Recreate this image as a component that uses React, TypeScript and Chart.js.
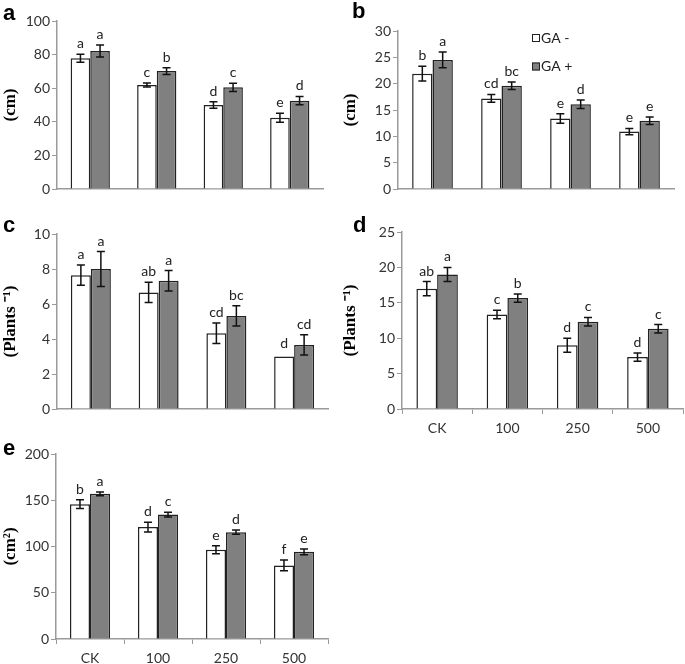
import React, { useEffect, useRef } from 'react';
import { Chart, registerables } from 'chart.js';

Chart.register(...registerables);

const categories = ['CK', '100', '250', '500'];
const seriesNames = ['GA -', 'GA +'];

// Panel a (cm)
const aMinus = [77.8, 61.9, 50.0, 42.4];
const aPlus = [82.1, 70.2, 60.5, 52.6];
const aMinusErr = [2.4, 1.2, 2.0, 2.7];
const aPlusErr = [3.6, 2.0, 2.5, 2.5];
const aMinusLetters = ['a', 'c', 'd', 'e'];
const aPlusLetters = ['a', 'b', 'c', 'd'];

// Panel b (cm)
const bMinus = [21.9, 17.2, 13.4, 10.9];
const bPlus = [24.5, 19.6, 16.1, 12.95];
const bMinusErr = [1.4, 0.75, 0.9, 0.6];
const bPlusErr = [1.5, 0.7, 0.8, 0.7];
const bMinusLetters = ['b', 'cd', 'e', 'e'];
const bPlusLetters = ['a', 'bc', 'd', 'e'];

// Panel c (Plants-1)
const cMinus = [7.65, 6.66, 4.33, 3.0];
const cPlus = [8.0, 7.33, 5.32, 3.66];
const cMinusErr = [0.58, 0.58, 0.58, 0];
const cPlusErr = [1.0, 0.58, 0.58, 0.58];
const cMinusLetters = ['a', 'ab', 'cd', 'd'];
const cPlusLetters = ['a', 'a', 'bc', 'cd'];

// Panel d (Plants-1)
const dMinus = [17.0, 13.35, 9.0, 7.33];
const dPlus = [19.0, 15.67, 12.33, 11.33];
const dMinusErr = [1.0, 0.6, 1.0, 0.57];
const dPlusErr = [1.0, 0.58, 0.6, 0.6];
const dMinusLetters = ['ab', 'c', 'd', 'd'];
const dPlusLetters = ['a', 'b', 'c', 'c'];

// Panel e (cm2)
const eMinus = [145.8, 121.0, 96.5, 79.5];
const ePlus = [157.0, 134.5, 115.5, 94.2];
const eMinusErr = [4.7, 5.2, 4.3, 5.8];
const ePlusErr = [2.0, 2.5, 2.3, 3.2];
const eMinusLetters = ['b', 'd', 'e', 'f'];
const ePlusLetters = ['a', 'c', 'd', 'e'];

const sansFamily = 'Lato, "Open Sans", sans-serif';
const tickFont = { family: sansFamily, size: 14 };
const axisGray = '#9a9a9a';
const tickColor = '#333333';
const barBorder = '#222222';
const plusFill = '#808080';
const minusFill = '#ffffff';

type PanelProps = {
  left: number; top: number; width: number; height: number;
  area: { left: number; top: number; right: number; bottom: number };
  letter: string; letterX: number; letterY: number;
  yTitle: string; yMax: number; yStep: number;
  minus: number[]; plus: number[];
  minusErr: number[]; plusErr: number[];
  minusLetters: string[]; plusLetters: string[];
  showX: boolean; legend?: { x: number; y: number };
};

function Panel(p: PanelProps) {
  const ref = useRef<HTMLCanvasElement | null>(null);
  useEffect(() => {
    if (!ref.current) return;
    const errs = [p.minusErr, p.plusErr];
    const letters = [p.minusLetters, p.plusLetters];
    const overlay = {
      id: 'overlay',
      afterDatasetsDraw(chart: any) {
        const ctx = chart.ctx;
        const ys = chart.scales.y;
        ctx.save();
        for (let i = 0; i < 2; i++) {
          const meta = chart.getDatasetMeta(i);
          const data = chart.data.datasets[i].data as number[];
          meta.data.forEach((bar: any, j: number) => {
            const v = data[j];
            const e = errs[i][j];
            const yTop = ys.getPixelForValue(v + e);
            const yBot = ys.getPixelForValue(v - e);
            if (e > 0) {
              ctx.strokeStyle = '#111';
              ctx.lineWidth = 1.5;
              ctx.beginPath();
              ctx.moveTo(bar.x, yTop);
              ctx.lineTo(bar.x, yBot);
              ctx.moveTo(bar.x - 4, yTop);
              ctx.lineTo(bar.x + 4, yTop);
              ctx.moveTo(bar.x - 4, yBot);
              ctx.lineTo(bar.x + 4, yBot);
              ctx.stroke();
            }
            ctx.fillStyle = '#222';
            ctx.font = '14px ' + sansFamily;
            ctx.textAlign = 'center';
            ctx.textBaseline = 'alphabetic';
            ctx.fillText(letters[i][j], bar.x, yTop - (e > 0 ? 6 : 9));
          });
        }
        // panel letter
        ctx.fillStyle = '#000';
        ctx.font = 'bold 22px "Liberation Sans", Arial, sans-serif';
        ctx.textAlign = 'left';
        ctx.textBaseline = 'alphabetic';
        ctx.fillText(p.letter, p.letterX, p.letterY);
        // legend
        if (p.legend) {
          const ds = chart.data.datasets;
          for (let i = 0; i < 2; i++) {
            const sy = p.legend.y + i * 28.5;
            ctx.fillStyle = ds[i].backgroundColor;
            ctx.fillRect(p.legend.x, sy, 8, 8);
            ctx.strokeStyle = '#222';
            ctx.lineWidth = 1;
            ctx.strokeRect(p.legend.x + 0.5, sy + 0.5, 7, 7);
            ctx.fillStyle = '#222';
            ctx.font = '14px ' + sansFamily;
            ctx.textAlign = 'left';
            ctx.fillText(ds[i].label, p.legend.x + 9, sy + 8.5);
          }
        }
        ctx.restore();
      },
    };
    const chart = new Chart(ref.current, {
      type: 'bar',
      data: {
        labels: categories,
        datasets: [
          {
            label: seriesNames[0], data: p.minus, backgroundColor: minusFill,
            borderColor: barBorder, borderWidth: 1.5,
            barPercentage: 1, categoryPercentage: 0.59,
          },
          {
            label: seriesNames[1], data: p.plus, backgroundColor: plusFill,
            borderColor: barBorder, borderWidth: 1.5,
            barPercentage: 1, categoryPercentage: 0.59,
          },
        ],
      },
      options: {
        responsive: false,
        animation: false,
        devicePixelRatio: 1,
        layout: { padding: { top: p.area.top, right: p.width - p.area.right, left: 0, bottom: 0 } },
        plugins: { legend: { display: false }, tooltip: { enabled: false }, title: { display: false } },
        scales: {
          x: {
            afterFit: (s: any) => { s.height = p.height - p.area.bottom; },
            ticks: { display: p.showX, font: tickFont, color: tickColor, padding: 6 },
            grid: {
              display: p.showX, drawOnChartArea: false, drawTicks: true, tickLength: 5,
              color: axisGray, offset: true,
            },
            border: { display: true, color: axisGray, width: 1.5 },
          },
          y: {
            min: 0, max: p.yMax,
            afterFit: (s: any) => { s.width = p.area.left; },
            ticks: { stepSize: p.yStep, font: tickFont, color: tickColor, padding: 2 },
            grid: { display: true, drawOnChartArea: false, drawTicks: true, tickLength: 5, color: axisGray },
            border: { display: true, color: axisGray, width: 1.5 },
            title: {
              display: true, text: p.yTitle, color: '#000',
              font: { family: '"Liberation Serif", "Times New Roman", serif', size: 17, weight: 'bold' },
              padding: { top: 0, bottom: 0 },
            },
          },
        },
      },
      plugins: [overlay],
    } as any);
    return () => chart.destroy();
  }, []);
  return (
    <canvas
      ref={ref}
      width={p.width}
      height={p.height}
      style={{ position: 'absolute', left: p.left, top: p.top, width: p.width, height: p.height }}
    />
  );
}

export default function App() {
  return (
    <div style={{ position: 'absolute', left: 0, top: 0, width: 685, height: 664, background: '#fff' }}>
      <Panel left={0} top={0} width={340} height={200}
        area={{ left: 57, top: 21, right: 323, bottom: 189 }}
        letter="a" letterX={3} letterY={20}
        yTitle="(cm)" yMax={100} yStep={20}
        minus={aMinus} plus={aPlus} minusErr={aMinusErr} plusErr={aPlusErr}
        minusLetters={aMinusLetters} plusLetters={aPlusLetters} showX={false} />
      <Panel left={340} top={0} width={345} height={200}
        area={{ left: 58, top: 31, right: 334, bottom: 189 }}
        letter="b" letterX={12} letterY={18}
        yTitle="(cm)" yMax={30} yStep={5}
        minus={bMinus} plus={bPlus} minusErr={bMinusErr} plusErr={bPlusErr}
        minusLetters={bMinusLetters} plusLetters={bPlusLetters} showX={false}
        legend={{ x: 192, y: 34 }} />
      <Panel left={0} top={200} width={340} height={220}
        area={{ left: 57, top: 34, right: 328, bottom: 209 }}
        letter="c" letterX={3} letterY={32}
        yTitle="(Plants ⁻¹)" yMax={10} yStep={2}
        minus={cMinus} plus={cPlus} minusErr={cMinusErr} plusErr={cPlusErr}
        minusLetters={cMinusLetters} plusLetters={cPlusLetters} showX={false} />
      <Panel left={340} top={200} width={345} height={240}
        area={{ left: 62, top: 32, right: 343, bottom: 209 }}
        letter="d" letterX={13} letterY={32}
        yTitle="(Plants ⁻¹)" yMax={25} yStep={5}
        minus={dMinus} plus={dPlus} minusErr={dMinusErr} plusErr={dPlusErr}
        minusLetters={dMinusLetters} plusLetters={dPlusLetters} showX={true} />
      <Panel left={0} top={420} width={340} height={244}
        area={{ left: 56, top: 34, right: 328, bottom: 219 }}
        letter="e" letterX={3} letterY={35}
        yTitle="(cm²)" yMax={200} yStep={50}
        minus={eMinus} plus={ePlus} minusErr={eMinusErr} plusErr={ePlusErr}
        minusLetters={eMinusLetters} plusLetters={ePlusLetters} showX={true} />
    </div>
  );
}
